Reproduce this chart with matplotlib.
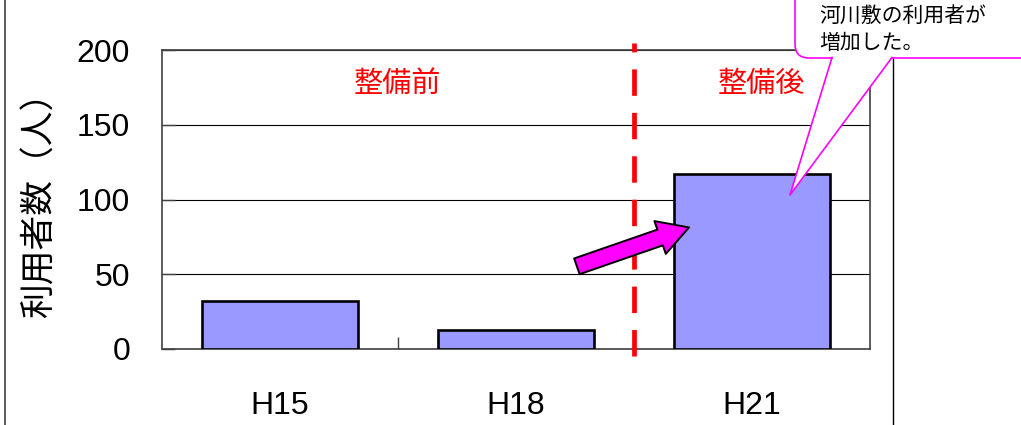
import matplotlib
matplotlib.use("Agg")
import matplotlib.pyplot as plt
from matplotlib.patches import FancyBboxPatch, Polygon
from matplotlib.lines import Line2D
from matplotlib.transforms import Affine2D

plt.rcParams['font.family'] = ['Liberation Sans', 'Noto Sans CJK JP']
CJK = ['Noto Sans CJK JP', 'DejaVu Sans']

# data
categories = ['H15', 'H18', 'H21']
users = [32, 13, 117]
phase_labels = ['整備前', '整備後']
y_ticks = [0, 50, 100, 150, 200]
y_label = '利用者数（人）'
callout_lines = ['河川敷の利用者が', '増加した。']

W, H = 1021, 425
fig = plt.figure(figsize=(W / 100, H / 100), dpi=100)
ax = fig.add_axes([162 / W, 1 - 349 / H, 708 / W, 299 / H])

# pixel coordinates measured from the top-left corner of the figure
px = Affine2D().scale(1 / W, -1 / H).translate(0, 1) + fig.transFigure

x = list(range(len(categories)))
ax.bar(x, users, width=0.665, color='#9999FF', edgecolor='black',
       linewidth=1.9, zorder=3)

ax.set_xlim(-0.5, len(categories) - 0.5)
ax.set_ylim(0, 200)
ax.set_yticks(y_ticks)
ax.set_yticklabels([str(v) for v in y_ticks], fontsize=23)
ax.yaxis.grid(True, color='black', linewidth=0.8)
ax.set_axisbelow(True)

# category boundaries carry the tick marks, labels sit at the centres
ax.set_xticks([i + 0.5 for i in x[:-1]])
ax.set_xticklabels([])
ax.set_xticks(x, labels=categories, minor=True)
ax.tick_params(axis='x', which='minor', length=0, pad=30, labelsize=23)
ax.tick_params(axis='both', which='major', direction='in', length=9,
               width=1.0, color='#404040')
ax.tick_params(axis='y', pad=23)

for s in ax.spines.values():
    s.set_color('#404040')
    s.set_linewidth(1.2)

ax.set_ylabel(y_label, fontsize=25, family=CJK, va='center')
ax.yaxis.set_label_coords(-0.172, 0.51)

# before / after divider
ax.plot([1.5, 1.5], [-5, 205], color='#FF0000', linewidth=3.4,
        dashes=(5.6, 3.6), clip_on=False, zorder=4)
ax.text(0.5, 177, phase_labels[0], color='#FF0000', fontsize=21,
        family=CJK, ha='center', va='center')
ax.text(2.04, 177, phase_labels[1], color='#FF0000', fontsize=21,
        family=CJK, ha='center', va='center')

# increase arrow
ax.annotate('', xy=(1.733, 81.3), xytext=(1.258, 55.3),
            arrowprops=dict(arrowstyle='simple,head_length=22,head_width=25,tail_width=12',
                            mutation_scale=1, fc='#FF00FF', ec='black',
                            lw=1.4, shrinkA=0, shrinkB=0),
            annotation_clip=False, zorder=6)

# outer frame lines
fig.add_artist(Line2D([5, 5], [0, H], transform=px, color='#404040',
                      linewidth=1.2, zorder=0.5))
fig.add_artist(Line2D([893, 893], [0, H], transform=px, color='black',
                      linewidth=1.0, zorder=0.5))

# speech-bubble callout
box = FancyBboxPatch((795, -20), 250, 78, boxstyle='round,pad=0,rounding_size=14',
                     transform=px, facecolor='white', edgecolor='#FF00FF',
                     linewidth=1.2, zorder=1)
fig.add_artist(box)
cover = Polygon([(833, 52), (833, 58), (790, 195), (891, 58), (891, 52)],
                closed=True, transform=px, facecolor='white',
                edgecolor='none', zorder=1.1)
fig.add_artist(cover)
fig.add_artist(Line2D([832, 790, 892], [57.5, 195, 57.5], transform=px,
                      color='#FF00FF', linewidth=1.2, zorder=1.2))
for line, ypix in zip(callout_lines, [16, 43]):
    fig.text(819 / W, 1 - ypix / H, line, fontsize=15, family=CJK,
             ha='left', va='center', color='black', zorder=3)

fig.savefig('out.png', dpi=100)
